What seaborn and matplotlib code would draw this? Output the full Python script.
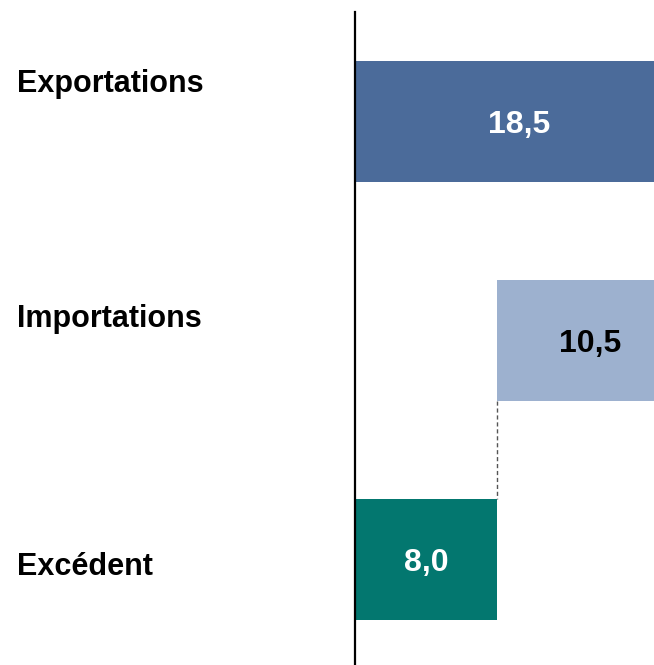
import matplotlib
matplotlib.use("Agg")
import matplotlib.pyplot as plt
import seaborn as sns

# Trade balance waterfall: exports, imports, surplus
categories = ["Exportations", "Importations", "Excédent"]
values = [18.5, 10.5, 8.0]
starts = [0.0, 8.0, 0.0]
value_labels = ["18,5", "10,5", "8,0"]
bar_colors = ["#4B6B9A", "#9DB1CF", "#03776F"]
label_colors = ["white", "black", "white"]

sns.set_theme(style="white")
plt.rcParams["font.family"] = ["Liberation Sans", "DejaVu Sans"]

W, H = 654, 665
fig = plt.figure(figsize=(W / 100, H / 100), dpi=100)
ax = fig.add_axes([355 / W, 0.0, 1 - 355 / W, 1 - 12 / H])

bar_h = 0.553
for cat, val, start, col in zip(categories, values, starts, bar_colors):
    sns.barplot(x=[val], y=[cat], left=start, color=col, order=categories,
                width=bar_h, orient="h", ax=ax, saturation=1, linewidth=0)

# value labels centred on each bar
for i, (val, start, txt, tc) in enumerate(zip(values, starts, value_labels, label_colors)):
    ax.text(start + val / 2, i + 0.015, txt, ha="center", va="center", color=tc,
            fontsize=23, fontweight="bold", clip_on=False)

# connector between imports start and surplus end
ax.plot([starts[1], starts[1]], [1 + bar_h / 2, 2 - bar_h / 2],
        linestyle=(0, (3, 2)), color="#555555", linewidth=1)

ax.set_xlim(0, 16.85)
ax.set_ylim(2.48, -0.5)
ax.set_xlabel("")
ax.set_ylabel("")
ax.set_xticks([])
ax.set_yticks([])
for side in ["top", "right", "bottom"]:
    ax.spines[side].set_visible(False)
ax.spines["left"].set_color("black")
ax.spines["left"].set_linewidth(1.6)

# category names on the left
baselines = [92, 327, 575]
for cat, yb in zip(categories, baselines):
    fig.text(17 / W, 1 - yb / H, cat, ha="left", va="baseline",
             fontsize=22, fontweight="bold", color="black")

fig.savefig("out.png", dpi=100)
